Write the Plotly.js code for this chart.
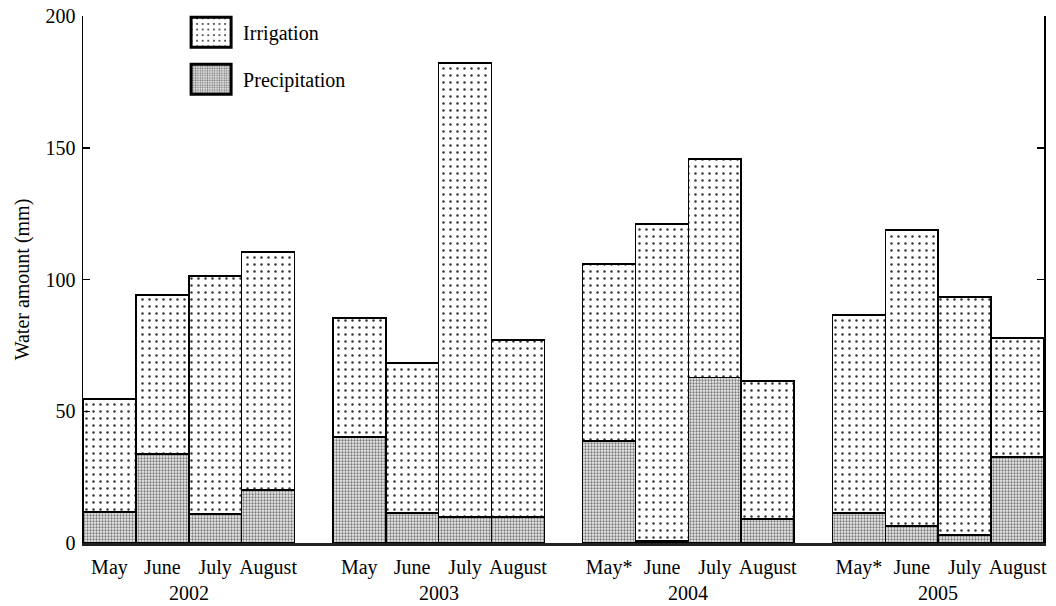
<!DOCTYPE html>
<html>
<head>
<meta charset="utf-8">
<script src="https://cdn.plot.ly/plotly-3.0.1.min.js"></script>
<style>html,body{margin:0;padding:0;background:#fff;}</style>
</head>
<body>
<div id="chart" style="width:1056px;height:606px;"></div>
<script>
// ---- data ----
const years = ['2002', '2003', '2004', '2005'];
const months2002 = ['May', 'June', 'July', 'August'];
const months2003 = ['May', 'June', 'July', 'August'];
const months2004 = ['May*', 'June', 'July', 'August'];
const months2005 = ['May*', 'June', 'July', 'August'];
const precip2002 = [11.8, 33.8, 11.0, 20.1];
const precip2003 = [40.2, 11.4, 9.9, 9.9];
const precip2004 = [38.7, 0.7, 62.8, 9.1];
const precip2005 = [11.4, 6.5, 3.0, 32.6];
const irrig2002 = [42.8, 60.3, 90.3, 90.3];
const irrig2003 = [45.2, 56.9, 172.3, 67.1];
const irrig2004 = [67.2, 120.4, 82.9, 52.4];
const irrig2005 = [75.1, 112.3, 90.4, 45.2];

const monthsByYear = [months2002, months2003, months2004, months2005];
const precipByYear = [precip2002, precip2003, precip2004, precip2005];
const irrigByYear = [irrig2002, irrig2003, irrig2004, irrig2005];

// ---- layout positions (group spacing) ----
const GROUP_STEP = 4.725;
const xs = [], labels = [], precip = [], irrig = [];
monthsByYear.forEach((ms, g) => {
  ms.forEach((m, i) => {
    xs.push(g * GROUP_STEP + i);
    labels.push(m);
    precip.push(precipByYear[g][i]);
    irrig.push(irrigByYear[g][i]);
  });
});

const FONT = 'Liberation Serif, Times New Roman, serif';
const FS = 20;

const traces = [
  {
    type: 'bar', name: 'Precipitation', x: xs, y: precip, width: 1,
    legendgroup: 'p', legendrank: 2,
    marker: {
      color: '#ffffff',
      line: {color: '#000', width: 1.6},
      pattern: {shape: '.', size: 3, solidity: 0.45, fgcolor: '#7a7a7a', bgcolor: '#eeeeee', fillmode: 'replace'}
    },
    hoverinfo: 'skip'
  },
  {
    type: 'bar', name: 'Irrigation', x: xs, y: irrig, width: 1,
    legendgroup: 'i', legendrank: 1,
    marker: {
      color: '#ffffff',
      line: {color: '#000', width: 1.6},
      pattern: {shape: '.', size: 7, solidity: 0.1, fgcolor: '#333', bgcolor: '#ffffff', fillmode: 'replace'}
    },
    hoverinfo: 'skip'
  }
];

const annotations = years.map((yr, g) => ({
  x: g * GROUP_STEP + 1.5, y: 0, xref: 'x', yref: 'y',
  text: yr, showarrow: false, yanchor: 'top', yshift: -37,
  font: {family: FONT, size: FS, color: '#000'}
}));

const layout = {
  width: 1056, height: 606,
  margin: {l: 83, r: 12, t: 16, b: 63},
  paper_bgcolor: '#fff', plot_bgcolor: '#fff',
  barmode: 'stack', bargap: 0,
  font: {family: FONT, size: FS, color: '#000'},
  showlegend: true,
  legend: {
    x: 0.1, y: 1.006, xanchor: 'left', yanchor: 'top',
    traceorder: 'grouped', tracegroupgap: 18,
    itemwidth: 54, bgcolor: 'rgba(0,0,0,0)',
    font: {family: FONT, size: FS, color: '#000'}
  },
  xaxis: {
    range: [-0.5, 3 * GROUP_STEP + 3.5],
    tickvals: xs, ticktext: labels,
    ticks: '', showgrid: false, zeroline: false,
    showline: true, linecolor: '#222', linewidth: 3,
    ticklabelstandoff: 4,
    tickfont: {family: FONT, size: FS, color: '#000'},
    fixedrange: true
  },
  yaxis: {
    range: [0, 200], tickvals: [0, 50, 100, 150, 200],
    ticks: 'inside', ticklen: 7, tickwidth: 1.5, tickcolor: '#000',
    showline: true, linecolor: '#000', linewidth: 1.5, mirror: 'ticks',
    showgrid: false, zeroline: false,
    ticklabelstandoff: 2,
    tickfont: {family: FONT, size: FS, color: '#000'},
    title: {text: 'Water amount (mm)', font: {family: FONT, size: FS, color: '#000'}, standoff: 10},
    fixedrange: true
  },
  annotations: annotations
};

Plotly.newPlot('chart', traces, layout, {displayModeBar: false, staticPlot: true}).then(() => {
  document.querySelectorAll('.legendpoints path').forEach(p => {
    p.setAttribute('d', 'M20,15H-20V-15H20Z');
    p.style.strokeWidth = '3px';
  });
});
</script>
</body>
</html>
